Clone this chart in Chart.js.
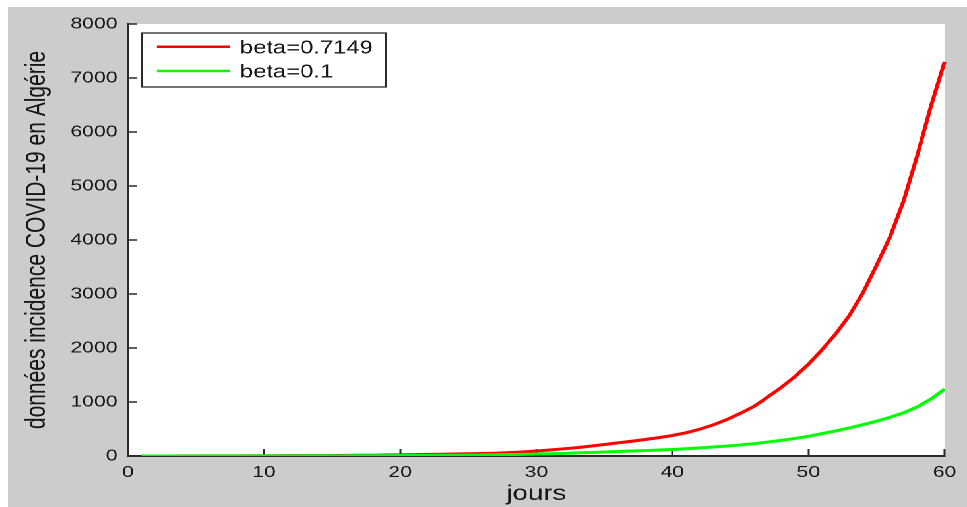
<!DOCTYPE html>
<html>
<head>
<meta charset="utf-8">
<script src="https://cdn.jsdelivr.net/npm/chart.js@4/dist/chart.umd.min.js"></script>
<style>
  html, body { margin: 0; padding: 0; background: #cccccc; width: 967px; height: 507px; overflow: hidden; }
  .edge { position: absolute; background: #ffffff; }
  #edgeTop { left: 0; top: 0; width: 967px; height: 7px; }
  #edgeLeft { left: 0; top: 0; width: 8px; height: 507px; }
  /* figure window: drawn at 727 px wide, widened to 959 px on screen */
  #frame { position: absolute; left: 8px; top: 7px; width: 727px; height: 500px; background: #cccccc;
           transform-origin: 0 0; transform: scaleX(1.31912); }
  #frame canvas { display: block; }
</style>
</head>
<body>
<div class="edge" id="edgeTop"></div>
<div class="edge" id="edgeLeft"></div>
<div id="frame"><canvas id="c"></canvas></div>
<script>
// simulated daily incidence, days 1..60
const days = [1,2,3,4,5,6,7,8,9,10,11,12,13,14,15,16,17,18,19,20,
              21,22,23,24,25,26,27,28,29,30,31,32,33,34,35,36,37,38,39,40,
              41,42,43,44,45,46,47,48,49,50,51,52,53,54,55,56,57,58,59,60];

const incidenceBeta07149 = [1,1,1,2,2,2,3,3,4,4,5,6,7,8,9,11,13,15,18,21,
                            25,29,33,37,41,46,52,62,75,92,112,133,155,183,213,243,273,305,340,380,
                            430,495,575,675,790,920,1090,1270,1470,1700,1970,2260,2600,3020,3530,4060,4730,5570,6480,7300];

const incidenceBeta01 = [1,1,1,1,1,2,2,2,2,2,3,3,4,4,5,5,6,7,8,9,
                         10,11,13,15,17,20,23,27,31,36,42,49,57,65,74,83,92,100,110,120,
                         135,150,166,184,205,230,258,290,325,365,415,465,520,580,645,718,800,910,1055,1240];

const seriesLabels = ['beta=0.7149', 'beta=0.1'];
const seriesColors = ['#ff0000', '#00ff00'];

const xTickValues = [0, 10, 20, 30, 40, 50, 60];
const yTickValues = [0, 1000, 2000, 3000, 4000, 5000, 6000, 7000, 8000];

const textColor = '#161616';
const axisColor = '#2a2a2a';
const fontFamily = '"Liberation Sans", Arial, Helvetica, sans-serif';

Chart.defaults.font.family = fontFamily;

// fixed axis thickness, and no extra room reserved for overhanging tick labels
const fixScale = size => s => {
  if (s.isHorizontal()) s.height = size; else s.width = size;
  s.paddingTop = s.paddingBottom = s.paddingLeft = s.paddingRight = 0;
};

// white axes background inside the grey figure
const plotBackground = {
  id: 'plotBackground',
  beforeDraw(chart) {
    const { ctx, chartArea: a } = chart;
    ctx.save();
    ctx.fillStyle = '#ffffff';
    ctx.fillRect(a.left, a.top, a.right - a.left, a.bottom - a.top);
    ctx.restore();
  }
};

// boxed legend in the upper-left corner of the axes
const boxedLegend = {
  id: 'boxedLegend',
  afterDatasetsDraw(chart) {
    const { ctx, chartArea: a } = chart;
    const left = a.left + 10.6, top = a.top + 9, w = 185, h = 54;
    ctx.save();
    ctx.fillStyle = '#ffffff';
    ctx.fillRect(left, top, w, h);
    ctx.strokeStyle = axisColor;
    ctx.lineWidth = 1.3;
    ctx.strokeRect(left, top, w, h);
    ctx.font = '18px ' + fontFamily;
    ctx.textBaseline = 'middle';
    ctx.textAlign = 'left';
    chart.data.datasets.forEach((ds, i) => {
      const y = top + 13.7 + i * 24.3;
      ctx.strokeStyle = ds.borderColor;
      ctx.lineWidth = 2.5;
      ctx.beginPath();
      ctx.moveTo(left + 11.3, y);
      ctx.lineTo(left + 66.7, y);
      ctx.stroke();
      ctx.fillStyle = textColor;
      ctx.fillText(ds.label, left + 74.3, y + 1.6);
    });
    ctx.restore();
  }
};

const tickFont = { family: fontFamily, size: 16 };
const titleFont = { family: fontFamily, size: 21 };

new Chart(document.getElementById('c'), {
  type: 'line',
  data: {
    labels: days,
    datasets: [
      { label: seriesLabels[0], data: incidenceBeta07149, borderColor: seriesColors[0], backgroundColor: seriesColors[0],
        borderWidth: 3, pointRadius: 0, tension: 0, fill: false, order: 1,
        clip: { left: 2, right: 2, top: 2, bottom: 0 } },
      { label: seriesLabels[1], data: incidenceBeta01, borderColor: seriesColors[1], backgroundColor: seriesColors[1],
        borderWidth: 3, pointRadius: 0, tension: 0, fill: false, order: 0,
        clip: { left: 2, right: 2, top: 2, bottom: 0 } }
    ]
  },
  options: {
    responsive: true,
    maintainAspectRatio: false,
    animation: false,
    devicePixelRatio: 2,
    layout: { autoPadding: false, padding: { top: 17, right: 17, bottom: 0, left: 0 } },
    plugins: { legend: { display: false }, tooltip: { enabled: false } },
    scales: {
      x: {
        type: 'linear', min: 0, max: 60, offset: false,
        afterBuildTicks: s => { s.ticks = xTickValues.map(v => ({ value: v })); },
        afterFit: fixScale(51),
        grid: { drawOnChartArea: false, drawTicks: true, tickLength: -7, tickWidth: 1.5, tickColor: axisColor },
        border: { display: true, color: axisColor, width: 2 },
        ticks: { color: textColor, font: tickFont, padding: 14, maxRotation: 0, autoSkip: false,
                 callback: v => String(v) },
        title: { display: true, text: 'jours', color: textColor, font: titleFont, padding: { top: 0, bottom: 0 } }
      },
      y: {
        type: 'linear', min: 0, max: 8000,
        afterBuildTicks: s => { s.ticks = yTickValues.map(v => ({ value: v })); },
        afterFit: fixScale(91),
        grid: { drawOnChartArea: false, drawTicks: true, tickLength: -7, tickWidth: 1.5, tickColor: axisColor },
        border: { display: true, color: axisColor, width: 2 },
        ticks: { color: textColor, font: tickFont, padding: 15, autoSkip: false,
                 callback: v => String(v) },
        title: { display: true, text: 'données incidence COVID-19 en Algérie', color: textColor, font: titleFont,
                 padding: { top: 9.6, bottom: 0 } }
      }
    }
  },
  plugins: [plotBackground, boxedLegend]
});
</script>
</body>
</html>
